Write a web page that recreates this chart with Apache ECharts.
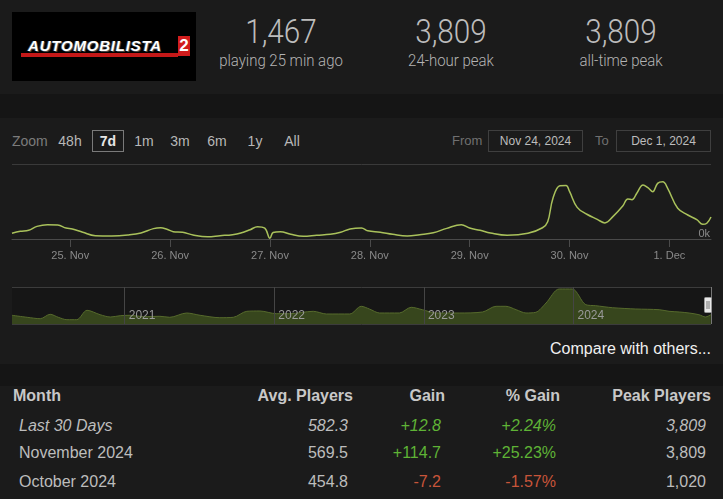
<!DOCTYPE html>
<html>
<head>
<meta charset="utf-8">
<script src="https://cdn.jsdelivr.net/npm/echarts@6/dist/echarts.min.js"></script>
<style>
  html, body {
    margin: 0;
    padding: 0;
    width: 723px;
    height: 499px;
    overflow: hidden;
    background: #1b1b1b;
    font-family: "Liberation Sans", Arial, sans-serif;
  }
  .abs { position: absolute; }

  .logo { left: 12px; top: 12px; width: 184px; height: 69px; background: #000; }
  .logo-text {
    left: 16px; top: 25px;
    font: italic bold 15px "Liberation Sans", Arial, sans-serif;
    color: #fff; letter-spacing: 0.8px;
    text-shadow: 1px 1px 0 #444, -1px 0 0 #444;
  }
  .logo-two {
    left: 166px; top: 24px; width: 12px; height: 20px;
    background: #d11d1d; color: #fff;
    font: bold 17px "Liberation Sans", Arial, sans-serif;
    text-align: center; line-height: 20px;
  }
  .logo-bar { left: 9px; top: 41px; width: 157px; height: 4px; background: #c41818; }

  .stat { width: 170px; text-align: center; color: #bdbdbd; font-family: Roboto, sans-serif; font-weight: 300; }
  .stat .num { font-size: 33px; line-height: 36px; transform: scaleX(0.9); }
  .stat .lbl { font-size: 17px; line-height: 20px; transform: scaleX(0.88); color: #b3b3b3; }

  .band { left: 0; width: 723px; background: #151515; }

  .tool { font-size: 14px; color: #b8b8b8; top: 132px; height: 18px; line-height: 18px; }
  .zoom-lbl { color: #7c7c7c; }
  .btn { width: 34px; text-align: center; }
  .btn.on { border: 1px solid #7a7a7a; height: 20px; line-height: 20px; top: 130px; font-weight: bold; color: #e6e6e6; width: 30px; }
  .range-lbl { font-size: 13px; color: #707070; top: 133px; }
  .range-box {
    top: 130px; width: 93px; height: 20px; border: 1px solid #3f3f3f;
    font-size: 12px; color: #bdbdbd; text-align: center; line-height: 20px;
  }

  #chart { left: 0; top: 150px; width: 723px; height: 190px; }

  .compare { right: 12px; top: 340px; font-size: 16px; color: #f0f0f0; }

  .th { font-size: 16px; font-weight: bold; color: #c8c8c8; top: 387px; }
  .td { font-size: 16px; color: #bdbdbd; }
  .it { font-style: italic; }
  .up { color: #5fb336; }
  .down { color: #c8553a; }
</style>
</head>
<body>

<div class="abs logo">
  <div class="abs logo-bar"></div>
  <div class="abs logo-text">AUTOMOBILISTA</div>
  <div class="abs logo-two">2</div>
</div>

<div class="abs stat" style="left:196px; top:14px">
  <div class="num">1,467</div>
  <div class="lbl">playing 25 min ago</div>
</div>
<div class="abs stat" style="left:366px; top:14px">
  <div class="num">3,809</div>
  <div class="lbl">24-hour peak</div>
</div>
<div class="abs stat" style="left:536px; top:14px">
  <div class="num">3,809</div>
  <div class="lbl">all-time peak</div>
</div>

<div class="abs band" style="top:94px; height:24px"></div>

<div class="abs tool zoom-lbl" style="left:12px">Zoom</div>
<div class="abs tool btn" style="left:53px">48h</div>
<div class="abs tool btn on" style="left:92px">7d</div>
<div class="abs tool btn" style="left:127px">1m</div>
<div class="abs tool btn" style="left:163px">3m</div>
<div class="abs tool btn" style="left:200px">6m</div>
<div class="abs tool btn" style="left:238px">1y</div>
<div class="abs tool btn" style="left:275px">All</div>

<div class="abs range-lbl" style="left:452px">From</div>
<div class="abs range-box" style="left:488px">Nov 24, 2024</div>
<div class="abs range-lbl" style="left:595px">To</div>
<div class="abs range-box" style="left:616px">Dec 1, 2024</div>

<div id="chart" class="abs"></div>

<div class="abs compare">Compare with others...</div>

<div class="abs band" style="top:364px; height:22px"></div>

<div class="abs th" style="left:13px">Month</div>
<div class="abs th" style="right:370px">Avg. Players</div>
<div class="abs th" style="right:278px">Gain</div>
<div class="abs th" style="right:163px">% Gain</div>
<div class="abs th" style="right:12px">Peak Players</div>

<div class="abs td it" style="left:19px; top:417px">Last 30 Days</div>
<div class="abs td it" style="right:375px; top:417px">582.3</div>
<div class="abs td it up" style="right:282px; top:417px">+12.8</div>
<div class="abs td it up" style="right:167px; top:417px">+2.24%</div>
<div class="abs td it" style="right:17px; top:417px">3,809</div>

<div class="abs td" style="left:19px; top:444px">November 2024</div>
<div class="abs td" style="right:375px; top:444px">569.5</div>
<div class="abs td up" style="right:282px; top:444px">+114.7</div>
<div class="abs td up" style="right:167px; top:444px">+25.23%</div>
<div class="abs td" style="right:17px; top:444px">3,809</div>

<div class="abs td" style="left:19px; top:473px">October 2024</div>
<div class="abs td" style="right:375px; top:473px">454.8</div>
<div class="abs td down" style="right:282px; top:473px">-7.2</div>
<div class="abs td down" style="right:167px; top:473px">-1.57%</div>
<div class="abs td" style="right:17px; top:473px">1,020</div>

<script>
// last 7 days, concurrent players (UTC)
const sampleTimes = [
  '2024-11-24 10:00', '2024-11-24 12:00', '2024-11-24 14:00', '2024-11-24 16:00', '2024-11-24 18:30',
  '2024-11-24 21:00', '2024-11-24 23:00', '2024-11-25 00:30', '2024-11-25 03:00', '2024-11-25 06:00',
  '2024-11-25 10:00', '2024-11-25 14:00', '2024-11-25 17:00', '2024-11-25 20:00', '2024-11-25 21:45',
  '2024-11-25 23:15', '2024-11-26 00:45', '2024-11-26 03:00', '2024-11-26 05:30', '2024-11-26 09:00',
  '2024-11-26 12:00', '2024-11-26 15:00', '2024-11-26 17:00', '2024-11-26 19:15', '2024-11-26 21:00',
  '2024-11-26 22:45', '2024-11-27 00:00', '2024-11-27 00:45', '2024-11-27 02:30', '2024-11-27 05:00',
  '2024-11-27 08:00', '2024-11-27 11:15', '2024-11-27 14:30', '2024-11-27 17:00', '2024-11-27 19:15',
  '2024-11-27 22:00', '2024-11-27 23:30', '2024-11-28 02:30', '2024-11-28 05:30', '2024-11-28 09:00',
  '2024-11-28 12:00', '2024-11-28 15:15', '2024-11-28 18:30', '2024-11-28 22:00', '2024-11-29 00:00',
  '2024-11-29 02:30', '2024-11-29 05:00', '2024-11-29 09:00', '2024-11-29 14:00', '2024-11-29 17:30',
  '2024-11-29 18:45', '2024-11-29 20:00', '2024-11-29 21:40', '2024-11-29 23:10', '2024-11-30 00:00',
  '2024-11-30 01:50', '2024-11-30 04:10', '2024-11-30 06:40', '2024-11-30 08:30', '2024-11-30 10:25',
  '2024-11-30 12:50', '2024-11-30 14:00', '2024-11-30 15:00', '2024-11-30 16:10', '2024-11-30 17:40',
  '2024-11-30 18:50', '2024-11-30 20:00', '2024-11-30 21:10', '2024-11-30 22:25', '2024-11-30 23:35',
  '2024-12-01 02:00', '2024-12-01 04:25', '2024-12-01 06:35', '2024-12-01 08:00', '2024-12-01 09:00',
  '2024-12-01 10:00'
]
const samplePlayers = [
  380, 510, 580, 840, 950,
  930, 730, 670, 450, 220,
  200, 270, 400, 690, 750,
  650, 490, 450, 270, 150,
  220, 290, 400, 620, 820,
  720, 50, 430, 490, 310,
  180, 250, 310, 450, 670,
  740, 550, 450, 310, 200,
  290, 420, 710, 950, 730,
  580, 400, 250, 380, 750,
  1150, 2700, 3550, 3570, 3170,
  2110, 1650, 1310, 1070, 1490,
  2220, 2670, 2620, 3050, 3600,
  3420, 3150, 3710, 3809, 3380,
  2050, 1600, 1290, 980, 1050,
  1467
]
const dayTicks = ['2024-11-25', '2024-11-26', '2024-11-27', '2024-11-28', '2024-11-29', '2024-11-30', '2024-12-01']
const dayLabels = ['25. Nov', '26. Nov', '27. Nov', '28. Nov', '29. Nov', '30. Nov', '1. Dec']

// navigator: full history
const navDates = [
  '2020-04-01', '2020-05-08', '2020-06-09', '2020-07-03', '2020-07-23', '2020-08-13', '2020-09-06',
  '2020-10-01', '2020-11-02', '2020-11-27', '2020-12-21', '2021-01-14', '2021-02-16', '2021-03-28',
  '2021-04-21', '2021-06-01', '2021-07-04', '2021-08-21', '2021-09-23', '2021-10-26', '2021-11-27',
  '2022-01-06', '2022-02-08', '2022-04-06', '2022-05-08', '2022-07-04', '2022-08-01', '2022-08-21',
  '2022-09-15', '2022-11-02', '2022-12-01', '2022-12-28', '2023-01-31', '2023-03-28', '2023-05-24',
  '2023-06-26', '2023-07-20', '2023-08-14', '2023-09-07', '2023-10-01', '2023-10-26', '2023-11-27',
  '2023-12-29', '2024-01-31', '2024-02-24', '2024-04-05', '2024-06-01', '2024-07-28', '2024-08-21',
  '2024-09-15', '2024-10-09', '2024-11-02', '2024-11-18', '2024-12-01'
]
const navPlayers = [
  870, 670, 530, 970, 670, 430, 430,
  1370, 930, 700, 830, 870, 730, 770,
  670, 1100, 870, 630, 670, 1270, 1300,
  1030, 1030, 1270, 1000, 1000, 1770, 1500,
  1100, 1100, 1670, 1430, 1100, 1100, 1200,
  1770, 1770, 1430, 1100, 1170, 2100, 3500,
  3500, 1930, 1830, 1630, 1500, 1430, 1270,
  1200, 1100, 930, 700, 930
]
const yearTicks = ['2021-01-01', '2022-01-01', '2023-01-01', '2024-01-01']
const yearLabels = ['2021', '2022', '2023', '2024']

const toTs = (s) => Date.parse(s.indexOf(' ') > 0 ? s.replace(' ', 'T') + ':00Z' : s + 'T00:00:00Z')

const dayTs = dayTicks.map(toTs)
const yearTs = yearTicks.map(toTs)

const chart = echarts.init(document.getElementById('chart'))

chart.setOption({
  animation: false,
  grid: [
    { left: 12, right: 12, top: 14, height: 75 },
    { left: 12, right: 12, top: 137, height: 37, show: true, backgroundColor: '#161616', borderWidth: 0 }
  ],
  xAxis: [
    {
      type: 'value',
      gridIndex: 0,
      min: toTs('2024-11-24 10:00'),
      max: toTs('2024-12-01 10:00'),
      axisLine: { lineStyle: { color: '#4a4a4a' } },
      axisTick: { customValues: dayTs, length: 8, lineStyle: { color: '#4a4a4a' } },
      axisLabel: {
        customValues: dayTs,
        formatter: (v) => dayLabels[dayTs.indexOf(v)],
        color: '#8a8a8a',
        fontSize: 11,
        fontFamily: 'Liberation Sans',
        margin: 11
      },
      splitLine: { show: false }
    },
    {
      type: 'value',
      gridIndex: 1,
      z: 5,
      min: toTs('2020-04-01'),
      max: toTs('2024-12-01 10:00'),
      axisLine: { show: false },
      axisTick: { customValues: yearTs, inside: true, length: 37, lineStyle: { color: '#454545' } },
      axisLabel: {
        customValues: yearTs,
        inside: true,
        formatter: (v) => yearLabels[yearTs.indexOf(v)],
        color: '#9a9a9a',
        fontSize: 12,
        fontFamily: 'Liberation Sans',
        align: 'left',
        padding: [0, 0, 0, 4],
        margin: 2
      },
      splitLine: { show: false }
    }
  ],
  yAxis: [
    {
      type: 'value',
      gridIndex: 0,
      position: 'right',
      min: 0,
      max: 5000,
      interval: 5000,
      axisLine: { show: false },
      axisTick: { show: false },
      splitLine: { lineStyle: { color: '#3a3a3a' } },
      axisLabel: {
        inside: true,
        formatter: (v) => (v === 0 ? '0k' : ''),
        color: '#8a8a8a',
        fontSize: 11,
        fontFamily: 'Liberation Sans',
        verticalAlign: 'bottom',
        margin: 1
      }
    },
    {
      type: 'value',
      gridIndex: 1,
      min: 0,
      max: 3700,
      interval: 3700,
      axisLine: { show: false },
      axisTick: { show: false },
      axisLabel: { show: false },
      splitLine: { lineStyle: { color: '#3c3c3c' } }
    }
  ],
  series: [
    {
      type: 'line',
      xAxisIndex: 0,
      yAxisIndex: 0,
      data: sampleTimes.map((t, i) => [toTs(t), samplePlayers[i]]),
      smooth: 0.4,
      showSymbol: false,
      lineStyle: { color: '#a9c15b', width: 1.5 }
    },
    {
      type: 'line',
      xAxisIndex: 1,
      yAxisIndex: 1,
      data: navDates.map((d, i) => [toTs(d), navPlayers[i]]),
      smooth: 0.3,
      showSymbol: false,
      lineStyle: { color: '#566a2c', width: 1 },
      areaStyle: { color: '#37461d', opacity: 1 }
    }
  ],
  graphic: [
    { type: 'line', shape: { x1: 711.5, y1: 137, x2: 711.5, y2: 174 }, style: { stroke: '#777', lineWidth: 1 } },
    { type: 'rect', shape: { x: 704.5, y: 147.5, width: 7, height: 15, r: 1 }, style: { fill: '#e8e8e8', stroke: '#999' } },
    { type: 'line', shape: { x1: 707, y1: 151, x2: 707, y2: 159 }, style: { stroke: '#777' } },
    { type: 'line', shape: { x1: 709, y1: 151, x2: 709, y2: 159 }, style: { stroke: '#777' } }
  ]
})
</script>
</body>
</html>
